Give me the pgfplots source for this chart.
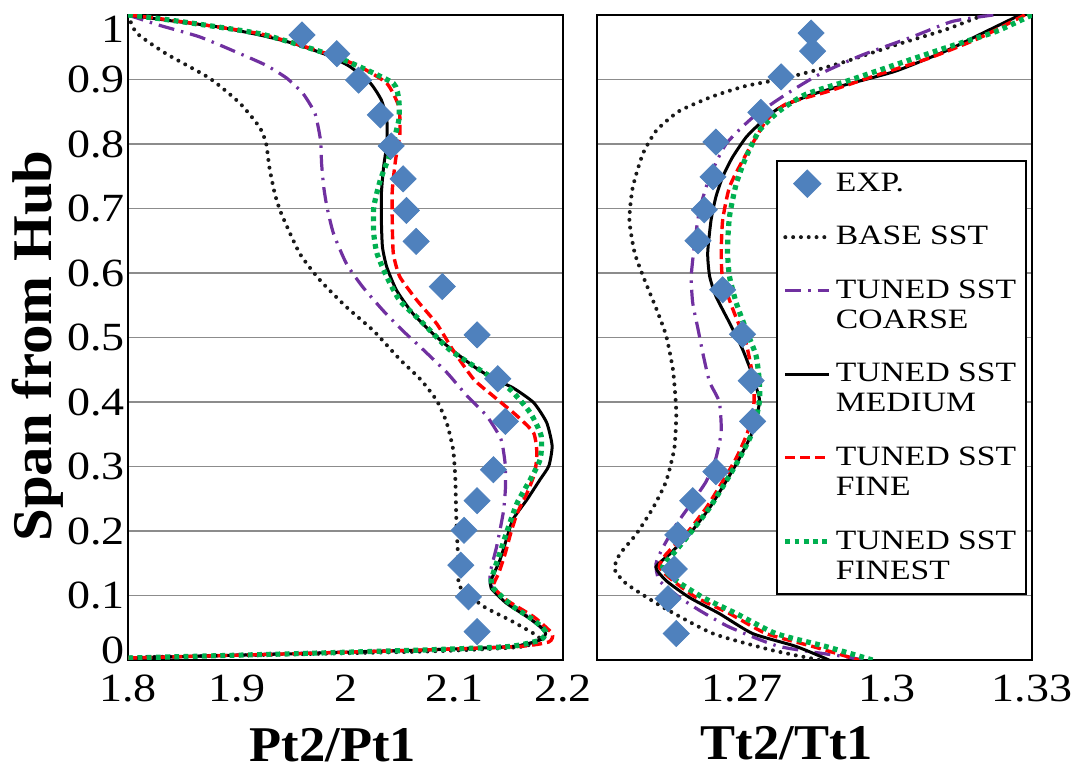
\documentclass[border=0pt]{standalone}
\usepackage{fontspec}
\setmainfont[FakeStretch=1.15]{Liberation Serif}
\newfontfamily\legfont[FakeStretch=1.2]{Liberation Serif}
\newfontfamily\titfont[FakeStretch=1.05]{Liberation Serif}
\usepackage{pgfplots}
\pgfplotsset{compat=1.18}
\definecolor{expblue}{HTML}{4F81BD}
\definecolor{cpurple}{HTML}{7030A0}
\definecolor{fred}{HTML}{FF0000}
\definecolor{fgreen}{HTML}{00B050}
\definecolor{gridgray}{HTML}{8C8C8C}
\pgfplotsset{
  panel/.style={
    scale only axis, width=217.5pt, height=322.5pt, anchor=south west,
    ymin=0, ymax=1, ytick={0,0.1,0.2,0.3,0.4,0.5,0.6,0.7,0.8,0.9,1},
    ymajorgrids, major grid style={gridgray, line width=0.9pt},
    axis line style={black, line width=1pt},
    major tick length=0pt,
    tick label style={font=\fontsize{20}{24}\selectfont, /pgf/number format/assume math mode=true},
    xticklabel style={yshift=-4pt},
    yticklabel style={xshift=2pt},
  },
  sexp/.style={only marks, mark=square*, mark size=4.6pt, mark options={rotate=45, fill=expblue, draw=expblue}},
  sbase/.style={black!90, line width=2pt, line cap=round, dash pattern=on 0pt off 3.9pt, smooth, tension=0.35},
  scoarse/.style={cpurple, line width=1.6pt, dash pattern=on 8pt off 3.5pt on 1.2pt off 3.5pt, smooth, tension=0.35},
  smedium/.style={black, line width=1.5pt, smooth, tension=0.35},
  sfine/.style={fred, line width=1.7pt, dash pattern=on 5pt off 2.5pt, smooth, tension=0.35},
  sfinest/.style={fgreen, line width=2.6pt, dash pattern=on 2.4pt off 2.2pt, smooth, tension=0.35},
  twoline/.style={legend image code/.code={\draw[##1] (0pt,7.5pt) -- (22pt,7.5pt);}},
}
\begin{document}
\begin{tikzpicture}
\useasboundingbox (0,0) rectangle (546pt,385pt);
% ---------------- left panel ----------------
\begin{axis}[panel, at={(64pt,55pt)}, xmin=1.8, xmax=2.2, xtick={1.8,1.9,2,2.1,2.2},
  yticklabels={\raisebox{5pt}[\height][\depth]{0},0.1,0.2,0.3,0.4,0.5,0.6,0.7,0.8,0.9,\raisebox{-7pt}[\height][\depth]{1}}]
\addplot[sexp] coordinates {(1.960,0.969)(1.992,0.940)(2.012,0.899)(2.032,0.845)(2.042,0.797)(2.053,0.746)(2.056,0.697)(2.065,0.649)(2.089,0.579)(2.121,0.504)(2.140,0.436)(2.147,0.370)(2.136,0.295)(2.121,0.247)(2.109,0.201)(2.106,0.147)(2.113,0.098)(2.121,0.044)};
\addplot[sbase] coordinates {(1.800,1.000)(1.808,0.972)(1.835,0.940)(1.875,0.902)(1.903,0.863)(1.921,0.826)(1.927,0.801)(1.930,0.764)(1.935,0.723)(1.941,0.692)(1.958,0.630)(1.977,0.588)(2.001,0.547)(2.026,0.510)(2.050,0.466)(2.069,0.435)(2.084,0.402)(2.093,0.368)(2.099,0.326)(2.101,0.280)(2.102,0.212)(2.104,0.145)(2.105,0.114)(2.127,0.083)(2.151,0.062)(2.173,0.041)(2.179,0.031)(2.159,0.020)(2.070,0.013)(1.800,0.004)};
\addplot[scoarse] coordinates {(1.800,1.000)(1.829,0.984)(1.866,0.966)(1.903,0.940)(1.927,0.922)(1.946,0.902)(1.961,0.878)(1.972,0.847)(1.977,0.806)(1.978,0.770)(1.980,0.733)(1.983,0.702)(1.989,0.661)(2.001,0.614)(2.016,0.578)(2.035,0.541)(2.053,0.510)(2.069,0.485)(2.093,0.446)(2.112,0.409)(2.130,0.378)(2.143,0.342)(2.147,0.301)(2.147,0.264)(2.145,0.228)(2.139,0.176)(2.133,0.135)(2.134,0.115)(2.148,0.090)(2.167,0.068)(2.180,0.050)(2.185,0.040)(2.180,0.031)(2.154,0.021)(2.080,0.016)(1.800,0.003)};
\addplot[smedium] coordinates {(1.800,1.000)(1.835,0.992)(1.881,0.982)(1.921,0.969)(1.952,0.956)(1.983,0.938)(2.004,0.920)(2.023,0.894)(2.033,0.868)(2.038,0.837)(2.038,0.801)(2.035,0.764)(2.033,0.723)(2.033,0.681)(2.034,0.640)(2.038,0.609)(2.047,0.573)(2.062,0.537)(2.081,0.505)(2.100,0.478)(2.118,0.455)(2.136,0.436)(2.154,0.422)(2.173,0.399)(2.185,0.368)(2.190,0.332)(2.187,0.301)(2.179,0.280)(2.167,0.249)(2.154,0.218)(2.148,0.187)(2.142,0.155)(2.134,0.124)(2.134,0.111)(2.148,0.088)(2.167,0.067)(2.179,0.052)(2.184,0.041)(2.179,0.031)(2.154,0.021)(2.080,0.016)(1.958,0.010)(1.800,0.003)};
\addplot[sfine] coordinates {(1.800,1.000)(1.835,0.993)(1.921,0.971)(1.983,0.940)(2.013,0.920)(2.038,0.894)(2.049,0.858)(2.050,0.816)(2.046,0.775)(2.043,0.728)(2.043,0.681)(2.044,0.630)(2.050,0.594)(2.066,0.557)(2.084,0.521)(2.099,0.480)(2.118,0.435)(2.136,0.409)(2.158,0.378)(2.173,0.352)(2.176,0.321)(2.174,0.290)(2.167,0.259)(2.158,0.228)(2.152,0.197)(2.147,0.166)(2.141,0.135)(2.136,0.114)(2.148,0.093)(2.173,0.067)(2.190,0.041)(2.187,0.028)(2.160,0.021)(2.080,0.016)(1.958,0.010)(1.800,0.003)};
\addplot[sfinest] coordinates {(1.800,1.000)(1.835,0.993)(1.921,0.971)(1.983,0.940)(2.010,0.922)(2.044,0.894)(2.049,0.868)(2.049,0.837)(2.041,0.785)(2.032,0.744)(2.026,0.702)(2.026,0.661)(2.029,0.630)(2.038,0.594)(2.050,0.557)(2.069,0.526)(2.093,0.485)(2.105,0.470)(2.127,0.446)(2.151,0.420)(2.170,0.383)(2.180,0.347)(2.179,0.311)(2.170,0.280)(2.158,0.244)(2.150,0.207)(2.142,0.166)(2.134,0.124)(2.136,0.111)(2.154,0.083)(2.173,0.062)(2.184,0.044)(2.179,0.031)(2.151,0.021)(2.080,0.016)(1.958,0.010)(1.800,0.003)};
\end{axis}
% ---------------- right panel ----------------
\begin{axis}[panel, at={(298.5pt,55pt)}, xmin=1.24, xmax=1.33, xtick={1.27,1.3,1.33},
  yticklabels={},
  legend image code/.code={\draw[mark repeat=2,mark phase=2,#1] plot coordinates {(0pt,0pt)(11pt,0pt)(22pt,0pt)};},
  legend style={at={(0.9885,0.775)}, anchor=north east, draw=black, line width=0.9pt, fill=white,
    font=\legfont\fontsize{14}{15}\selectfont, cells={anchor=west, align=left}, row sep=12pt,
    inner xsep=3pt, inner ysep=4pt, /tikz/every even column/.append style={column sep=1pt}}]
\addplot[sexp] coordinates {(1.2843,0.972)(1.2846,0.944)(1.2781,0.904)(1.2739,0.849)(1.2646,0.803)(1.2640,0.749)(1.2622,0.698)(1.2609,0.650)(1.2660,0.574)(1.2701,0.505)(1.2719,0.433)(1.2722,0.370)(1.2646,0.292)(1.2598,0.247)(1.2567,0.194)(1.2560,0.141)(1.2547,0.095)(1.2564,0.041)};
\addlegendentry{EXP.}
\addplot[sbase] coordinates {(1.3200,1.000)(1.312,0.977)(1.302,0.954)(1.2915,0.928)(1.2846,0.913)(1.2777,0.900)(1.2708,0.890)(1.264,0.874)(1.257,0.851)(1.2523,0.821)(1.2495,0.785)(1.2474,0.733)(1.2467,0.682)(1.2478,0.631)(1.2498,0.590)(1.2523,0.544)(1.2543,0.503)(1.2557,0.451)(1.2562,0.410)(1.2564,0.379)(1.2560,0.328)(1.2543,0.277)(1.2516,0.236)(1.2481,0.195)(1.2447,0.164)(1.2436,0.141)(1.2461,0.118)(1.2536,0.082)(1.264,0.041)(1.2763,0.015)(1.286,0.000)};
\addlegendentry{BASE SST}
\addplot[scoarse, twoline] coordinates {(1.3220,1.000)(1.3135,0.990)(1.3052,0.966)(1.2949,0.938)(1.286,0.908)(1.2791,0.877)(1.2722,0.841)(1.2667,0.800)(1.2633,0.749)(1.2612,0.697)(1.2602,0.646)(1.2595,0.595)(1.2598,0.554)(1.2609,0.513)(1.262,0.472)(1.2633,0.431)(1.2653,0.400)(1.2657,0.354)(1.2646,0.313)(1.2626,0.277)(1.2598,0.246)(1.2564,0.210)(1.2536,0.174)(1.2522,0.149)(1.2529,0.123)(1.2571,0.097)(1.2612,0.077)(1.2674,0.051)(1.2777,0.021)(1.2915,0.005)(1.295,0.000)};
\addlegendentry{TUNED SST\\COARSE}
\addplot[smedium, twoline] coordinates {(1.3275,1.000)(1.319,0.969)(1.3121,0.944)(1.3018,0.913)(1.2915,0.892)(1.2846,0.877)(1.2777,0.856)(1.2736,0.831)(1.2708,0.810)(1.268,0.779)(1.266,0.749)(1.2646,0.718)(1.2636,0.682)(1.2629,0.631)(1.2633,0.595)(1.2646,0.564)(1.2674,0.523)(1.2701,0.482)(1.2722,0.441)(1.2736,0.405)(1.2734,0.390)(1.2722,0.354)(1.2695,0.313)(1.2667,0.277)(1.2633,0.236)(1.2591,0.195)(1.255,0.164)(1.2522,0.144)(1.2543,0.123)(1.2591,0.097)(1.2653,0.072)(1.2722,0.041)(1.2812,0.021)(1.288,0.000)};
\addlegendentry{TUNED SST\\MEDIUM}
\addplot[sfine, twoline] coordinates {(1.3285,1.000)(1.319,0.964)(1.3087,0.933)(1.2984,0.908)(1.288,0.882)(1.2791,0.862)(1.275,0.836)(1.2729,0.810)(1.2701,0.774)(1.2674,0.733)(1.266,0.682)(1.2657,0.631)(1.266,0.590)(1.2681,0.544)(1.2708,0.492)(1.2722,0.441)(1.2725,0.400)(1.2712,0.354)(1.2688,0.313)(1.266,0.277)(1.2626,0.236)(1.2584,0.195)(1.2543,0.164)(1.2529,0.144)(1.2557,0.123)(1.2605,0.097)(1.2674,0.072)(1.275,0.041)(1.2846,0.021)(1.2942,0.000)};
\addlegendentry{TUNED SST\\FINE}
\addplot[sfinest, twoline] coordinates {(1.3300,1.000)(1.3224,0.974)(1.3121,0.949)(1.3018,0.923)(1.2915,0.897)(1.2832,0.877)(1.2777,0.851)(1.2736,0.821)(1.2708,0.779)(1.2688,0.738)(1.2674,0.687)(1.267,0.636)(1.2674,0.595)(1.2688,0.554)(1.2708,0.513)(1.2729,0.472)(1.2736,0.431)(1.2736,0.400)(1.2722,0.354)(1.2695,0.313)(1.2667,0.277)(1.2633,0.236)(1.2591,0.195)(1.2557,0.164)(1.2536,0.144)(1.2564,0.123)(1.2619,0.097)(1.2688,0.072)(1.277,0.041)(1.2873,0.021)(1.297,0.000)};
\addlegendentry{TUNED SST\\FINEST}
\end{axis}
% ---------------- titles ----------------
\node[rotate=90, font=\titfont\bfseries\fontsize{28}{30}\selectfont] at (19pt,212pt) {Span from Hub};
\node[font=\titfont\bfseries\fontsize{25}{28}\selectfont] at (166.5pt,12.5pt) {Pt2/Pt1};
\node[font=\titfont\bfseries\fontsize{25}{28}\selectfont] at (393.5pt,13.5pt) {Tt2/Tt1};
\end{tikzpicture}
\end{document}
